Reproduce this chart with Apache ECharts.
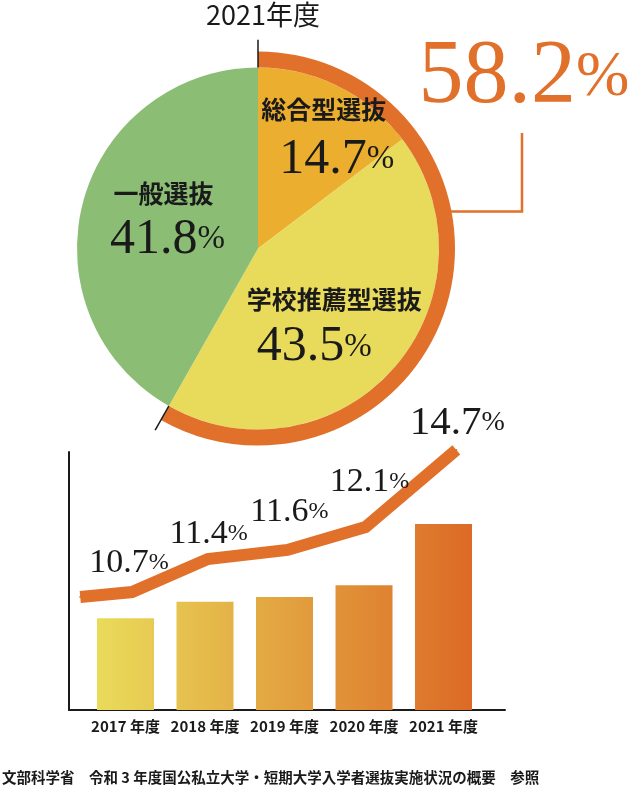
<!DOCTYPE html>
<html><head><meta charset="utf-8">
<script src="https://cdn.jsdelivr.net/npm/echarts@6/dist/echarts.min.js"></script>
<style>html,body{margin:0;padding:0;background:#fff}#c{width:632px;height:786px}</style>
</head><body><div id="c"></div>
<script>
// ---- data ----
const pieTitle = '2021年度';
const pieNames = ['総合型選抜', '学校推薦型選抜', '一般選抜'];
const pieValues = [14.7, 43.5, 41.8];
const years = ['2017 年度', '2018 年度', '2019 年度', '2020 年度', '2021 年度'];
const rates = [10.7, 11.4, 11.6, 12.1, 14.7];
// decorative trend ribbon (x in category units, y on the bar value axis)
const ribbonX = [-0.57, 0.08, 1.03, 2.03, 3.01, 4.15];
const ribbonY = [11.60, 11.81, 13.21, 13.60, 14.57, 17.85];
const footnote = '文部科学省　令和 3 年度国公私立大学・短期大学入学者選抜実施状況の概要　参照';

// ---- style ----
const JP = '"Noto Sans CJK JP", "Noto Sans", sans-serif';
const SERIF = '"Liberation Serif", "DejaVu Serif", serif';
const INK = '#1a1a1a';
const ORANGE = '#E0702A';
const pieColors = ['#EBAE2F', '#E8DA5A', '#8BBD74'];
const CX = 258, CY = 248.5, R = 181, RING = 197, TICK = 209;
const titleOffsets = [[24, -55], [6, -11], [-4, -31]];
const numberOffsets = [[37, -5], [-14, 37], [0, 15]];
const lineLabelOffsets = [[-3, -29], [1, -25], [2, -38], [4, -45], [1, -27]];

const c0 = [233, 219, 90], c1 = [220, 106, 38];
function lerp(t) {
  const c = c0.map((v, k) => Math.round(v + (c1[k] - v) * t));
  return 'rgb(' + c.join(',') + ')';
}
function barGrad(i) {
  const span = 375, step = 79.5, w = 57;
  return {type: 'linear', x: 0, y: 0, x2: 1, y2: 0, colorStops: [
    {offset: 0, color: lerp(step * i / span)},
    {offset: 1, color: lerp((step * i + w) / span)}]};
}

const chart = echarts.init(document.getElementById('c'), null, {renderer: 'canvas'});
const total = (pieValues[0] + pieValues[1]).toFixed(1);

const numRich = {
  n: {fontFamily: SERIF, fontSize: 50, color: INK},
  p: {fontFamily: SERIF, fontSize: 33, color: INK}
};

chart.setOption({
  animation: false,
  backgroundColor: '#fff',
  polar: {center: [CX, CY], radius: TICK},
  angleAxis: {type: 'value', min: 0, max: 100, startAngle: 90, clockwise: true,
    axisLine: {show: false}, axisTick: {show: false}, axisLabel: {show: false}, splitLine: {show: false}},
  radiusAxis: {type: 'value', min: 0, max: TICK,
    axisLine: {show: false}, axisTick: {show: false}, axisLabel: {show: false}, splitLine: {show: false}},
  grid: [
    {left: 85.75, right: 148.75, top: 452, bottom: 76},
    {left: 69, right: 127, top: 452, bottom: 76}
  ],
  xAxis: [
    {gridIndex: 0, type: 'category', data: years,
      axisLine: {show: false}, axisTick: {show: false}, splitLine: {show: false},
      axisLabel: {interval: 0, margin: 9, fontFamily: JP, fontWeight: 'bold', fontSize: 15, color: INK}},
    {gridIndex: 1, type: 'value', min: -0.711, max: 4.761,
      axisLine: {show: true, onZero: false, lineStyle: {color: INK, width: 2}},
      axisTick: {show: false}, axisLabel: {show: false}, splitLine: {show: false}}
  ],
  yAxis: [
    {gridIndex: 0, type: 'value', min: 6.8, max: 17.76, show: false},
    {gridIndex: 1, type: 'value', min: 6.8, max: 17.76,
      axisLine: {show: true, onZero: false, lineStyle: {color: INK, width: 2}},
      axisTick: {show: false}, axisLabel: {show: false}, splitLine: {show: false}}
  ],
  series: [
    {
      type: 'pie', center: [CX, CY], radius: [0, R], startAngle: 90, clockwise: true, silent: true, z: 2,
      data: pieNames.map((n, i) => ({name: n, value: pieValues[i], itemStyle: {color: pieColors[i]},
        label: {offset: titleOffsets[i]}})),
      label: {show: true, position: 'inside', formatter: '{b}', fontFamily: JP, fontWeight: 'bold',
        fontSize: 25, color: INK},
      labelLine: {show: false}
    },
    {
      type: 'pie', center: [CX, CY], radius: [0, R], startAngle: 90, clockwise: true, silent: true, z: 3,
      data: pieNames.map((n, i) => ({name: n, value: pieValues[i], itemStyle: {color: 'rgba(0,0,0,0)'},
        label: {offset: numberOffsets[i]}})),
      label: {show: true, position: 'inside', formatter: p => '{n|' + p.value.toFixed(1) + '}{p|%}', rich: numRich},
      labelLine: {show: false}
    },
    {
      type: 'pie', center: [CX, CY], radius: [R, RING], startAngle: 90, clockwise: true, silent: true, z: 2,
      data: [
        {name: 'ring', value: pieValues[0] + pieValues[1], itemStyle: {color: ORANGE}},
        {name: 'rest', value: pieValues[2], itemStyle: {color: 'rgba(0,0,0,0)'}}
      ],
      label: {show: false}, labelLine: {show: false}
    },
    {
      type: 'line', coordinateSystem: 'polar', silent: true, symbol: 'none', z: 5,
      data: [[R, 0], [TICK, 0]], lineStyle: {color: INK, width: 1.5}
    },
    {
      type: 'line', coordinateSystem: 'polar', silent: true, symbol: 'none', z: 5,
      data: [[R, pieValues[0] + pieValues[1]], [TICK, pieValues[0] + pieValues[1]]], lineStyle: {color: INK, width: 1.5}
    },
    {
      type: 'bar', xAxisIndex: 0, yAxisIndex: 0, barWidth: 57, silent: true,
      data: rates.map((v, i) => ({value: v, itemStyle: {color: barGrad(i)}}))
    },
    {
      type: 'line', xAxisIndex: 1, yAxisIndex: 1, silent: true, clip: false, z: 4,
      symbol: 'circle', symbolSize: 2, itemStyle: {color: ORANGE},
      lineStyle: {color: ORANGE, width: 12, cap: 'butt', join: 'miter'},
      data: ribbonX.map((x, i) => ({
        value: [x, ribbonY[i]],
        label: i === 0 ? {show: false} : Object.assign({show: true, offset: lineLabelOffsets[i - 1]},
          i === ribbonX.length - 1 ? {rich: {n: {fontFamily: SERIF, fontSize: 41, color: INK}, p: {fontFamily: SERIF, fontSize: 28, color: INK}}} : {})
      })),
      label: {show: true, position: 'inside',
        formatter: p => p.dataIndex === 0 ? '' : '{n|' + rates[p.dataIndex - 1].toFixed(1) + '}{p|%}',
        rich: {n: {fontFamily: SERIF, fontSize: 34, color: INK}, p: {fontFamily: SERIF, fontSize: 24, color: INK}}}
    }
  ],
  graphic: [
    {type: 'text', z: 10, style: {x: 263, y: 15, text: pieTitle, align: 'center', verticalAlign: 'middle',
      font: '27px ' + JP, fill: INK}},
    {type: 'polyline', z: 10, shape: {points: [[451, 211.5], [522, 211.5], [522, 133]]},
      style: {stroke: ORANGE, lineWidth: 2.5, fill: null}},
    {type: 'text', z: 10, style: {x: 524, y: 78, text: '{n|' + total + '}{p|%}', align: 'center', verticalAlign: 'middle',
      rich: {n: {fontFamily: SERIF, fontSize: 90, fill: ORANGE}, p: {fontFamily: SERIF, fontSize: 64, fill: ORANGE}}}},
    {type: 'text', z: 10, style: {x: 2, y: 777, text: footnote, align: 'left', verticalAlign: 'middle',
      font: 'bold 14.5px ' + JP, fill: INK}}
  ]
});
</script>
</body></html>
